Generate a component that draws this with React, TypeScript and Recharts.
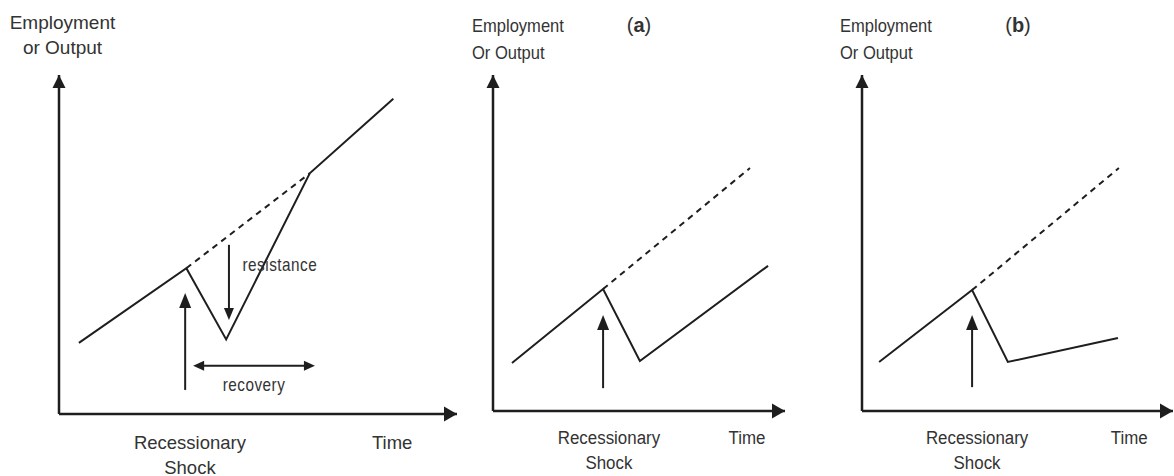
import React from 'react';
import { LineChart, Line, XAxis, YAxis, ReferenceLine, ReferenceDot } from 'recharts';

// left panel: resistance / recovery
const baseTime = [5, 32, 42, 63, 84];
const baseLevel = [21, 43, 22, 71, 93];
const baseTrendTime = [32, 63];
const baseTrendLevel = [43, 71];

// panel (a)
const aTime = [6.5, 37.7, 50.3, 94.2];
const aLevel = [14.3, 36.3, 14.9, 43.2];
const aTrendTime = [37.7, 88];
const aTrendLevel = [36.3, 72.3];

// panel (b)
const bTime = [5.5, 35.4, 46.9, 82.3];
const bLevel = [14.6, 36, 14.6, 21.7];
const bTrendTime = [35.4, 82.6];
const bTrendLevel = [36, 72.3];

// x-axis label positions and texts
const tickLabels = ['Recessionary\nShock', 'Time'];
const baseTicks = [32.9, 83.7];
const aTicks = [39.7, 87];
const bTicks = [37, 85.9];

// shock arrows: time, tail level, tip level
const baseShock = [31.7, 7.1, 35.7];
const aShock = [37.7, 6.8, 28.6];
const bShock = [35.4, 7.1, 28.6];

// resistance arrow (time, from, to) and recovery arrow (level, from, to)
const resistance = [42.7, 49.9, 27.7];
const recovery = [14.2, 33.7, 64.3];

const INK = '#1e1e1e';
const TEXT = '#333';
const SANS = '"Liberation Sans", Arial, sans-serif';
const NARROW = 0.87; // horizontal squeeze for the condensed lettering

const zip = (t: number[], v: number[]) => t.map((x, i) => ({ t: x, v: v[i] }));

type Dir = 'up' | 'down' | 'left' | 'right';
const head = (dir: Dir, len: number, half: number) => (p: any) => {
  const { cx, cy } = p;
  let pts = '';
  if (dir === 'up') pts = `${cx},${cy} ${cx - half},${cy + len} ${cx + half},${cy + len}`;
  if (dir === 'down') pts = `${cx},${cy} ${cx - half},${cy - len} ${cx + half},${cy - len}`;
  if (dir === 'right') pts = `${cx},${cy} ${cx - len},${cy - half} ${cx - len},${cy + half}`;
  if (dir === 'left') pts = `${cx},${cy} ${cx + len},${cy - half} ${cx + len},${cy + half}`;
  return <polygon points={pts} fill={INK} />;
};

const note = (value: string) => (p: any) => (
  <g transform={`translate(${p.cx},${p.cy}) scale(0.85,1)`}>
    <text x={0} y={6} textAnchor="middle" fill={TEXT} fontFamily={SANS} fontSize={18} letterSpacing={0.6}>
      {value}
    </text>
  </g>
);

interface PanelProps {
  left: number;
  width: number;
  yAxisWidth: number;
  xAxisHeight: number;
  right: number;
  line: { t: number; v: number }[];
  trend: { t: number; v: number }[];
  shock: number[];
  ticks: number[];
  squeeze: number;
  fontSize: number;
  dy: [number, number];
  withNotes?: boolean;
}

function Panel({
  left, width, yAxisWidth, xAxisHeight, right, line, trend, shock, ticks, squeeze, fontSize, dy, withNotes,
}: PanelProps) {
  const renderTick = (p: any) => {
    const lines = tickLabels[p.index].split('\n');
    return (
      <g transform={`translate(${p.x},${p.y}) scale(${squeeze},1)`}>
        <text x={0} y={0} textAnchor="middle" fill={TEXT} fontFamily={SANS} fontSize={fontSize}>
          {lines.map((s, i) => (
            <tspan key={i} x={0} y={dy[i]}>{s}</tspan>
          ))}
        </text>
      </g>
    );
  };
  const axisStyle = { stroke: INK, strokeWidth: 2.5 };

  return (
    <div style={{ position: 'absolute', left, top: 0 }}>
      <LineChart width={width} height={476} margin={{ top: 75, right, bottom: 0, left: 0 }}>
        <XAxis
          type="number" dataKey="t" domain={[0, 100]} allowDataOverflow
          ticks={ticks} interval={0} tick={renderTick} tickLine={false}
          tickSize={0} tickMargin={0} height={xAxisHeight} axisLine={axisStyle}
        />
        <YAxis
          type="number" domain={[0, 100]} allowDataOverflow
          tick={false} tickLine={false} width={yAxisWidth} axisLine={axisStyle}
        />
        <ReferenceDot x={100} y={0} r={0} ifOverflow="visible" shape={head('right', 13, 7.5)} />
        <ReferenceDot x={0} y={100} r={0} ifOverflow="visible" shape={head('up', 13, 6.5)} />

        <Line
          data={trend} dataKey="v" type="linear" stroke={INK} strokeWidth={2}
          strokeDasharray="6 5" dot={false} isAnimationActive={false}
        />
        <Line
          data={line} dataKey="v" type="linear" stroke={INK} strokeWidth={2}
          dot={false} isAnimationActive={false}
        />

        <ReferenceLine
          segment={[{ x: shock[0], y: shock[1] }, { x: shock[0], y: shock[2] - 3 }]}
          stroke={INK} strokeWidth={2} ifOverflow="visible"
        />
        <ReferenceDot x={shock[0]} y={shock[2]} r={0} ifOverflow="visible" shape={head('up', 15, 6)} />

        {withNotes && (
          <>
            <ReferenceLine
              segment={[{ x: resistance[0], y: resistance[1] }, { x: resistance[0], y: resistance[2] + 3 }]}
              stroke={INK} strokeWidth={2} ifOverflow="visible"
            />
            <ReferenceDot
              x={resistance[0]} y={resistance[2]} r={0} ifOverflow="visible" shape={head('down', 12, 5)}
            />
            <ReferenceLine
              segment={[{ x: recovery[1] + 2, y: recovery[0] }, { x: recovery[2] - 2, y: recovery[0] }]}
              stroke={INK} strokeWidth={2} ifOverflow="visible"
            />
            <ReferenceDot x={recovery[1]} y={recovery[0]} r={0} ifOverflow="visible" shape={head('left', 11, 5)} />
            <ReferenceDot x={recovery[2]} y={recovery[0]} r={0} ifOverflow="visible" shape={head('right', 11, 5)} />
            <ReferenceDot x={55.5} y={44} r={0} ifOverflow="visible" shape={note('resistance')} />
            <ReferenceDot x={49} y={8.6} r={0} ifOverflow="visible" shape={note('recovery')} />
          </>
        )}
      </LineChart>
    </div>
  );
}

const titleBase: React.CSSProperties = {
  position: 'absolute', color: TEXT, whiteSpace: 'nowrap', fontFamily: SANS,
};
const narrowTitle: React.CSSProperties = {
  ...titleBase, fontSize: 19, lineHeight: '27px', transform: `scaleX(${NARROW})`, transformOrigin: 'left top',
};

export default function App() {
  return (
    <div style={{ position: 'absolute', left: 0, top: 0, width: 1174, height: 476, background: '#fff', overflow: 'hidden' }}>
      <Panel
        left={0} width={470} yAxisWidth={59} xAxisHeight={62} right={13}
        line={zip(baseTime, baseLevel)} trend={zip(baseTrendTime, baseTrendLevel)}
        shock={baseShock} ticks={baseTicks} squeeze={1} fontSize={18.5} dy={[34.5, 59.5]} withNotes
      />
      <Panel
        left={470} width={360} yAxisWidth={23} xAxisHeight={65} right={45}
        line={zip(aTime, aLevel)} trend={zip(aTrendTime, aTrendLevel)}
        shock={aShock} ticks={aTicks} squeeze={0.89} fontSize={19} dy={[33.5, 58.5]}
      />
      <Panel
        left={830} width={344} yAxisWidth={32} xAxisHeight={65} right={1}
        line={zip(bTime, bLevel)} trend={zip(bTrendTime, bTrendLevel)}
        shock={bShock} ticks={bTicks} squeeze={0.89} fontSize={19} dy={[33.5, 58.5]}
      />

      <div style={{ ...titleBase, left: 0, top: 10, width: 125, textAlign: 'center', fontSize: 19, lineHeight: '25px' }}>
        Employment<br />or Output
      </div>
      <div style={{ ...narrowTitle, left: 472, top: 12 }}>
        Employment<br />Or Output
      </div>
      <div style={{ ...titleBase, left: 619, top: 12, width: 40, textAlign: 'center', fontSize: 20, lineHeight: '27px' }}>
        (<b>a</b>)
      </div>
      <div style={{ ...narrowTitle, left: 840, top: 12 }}>
        Employment<br />Or Output
      </div>
      <div style={{ ...titleBase, left: 998, top: 12, width: 40, textAlign: 'center', fontSize: 20, lineHeight: '27px' }}>
        (<b>b</b>)
      </div>
    </div>
  );
}
